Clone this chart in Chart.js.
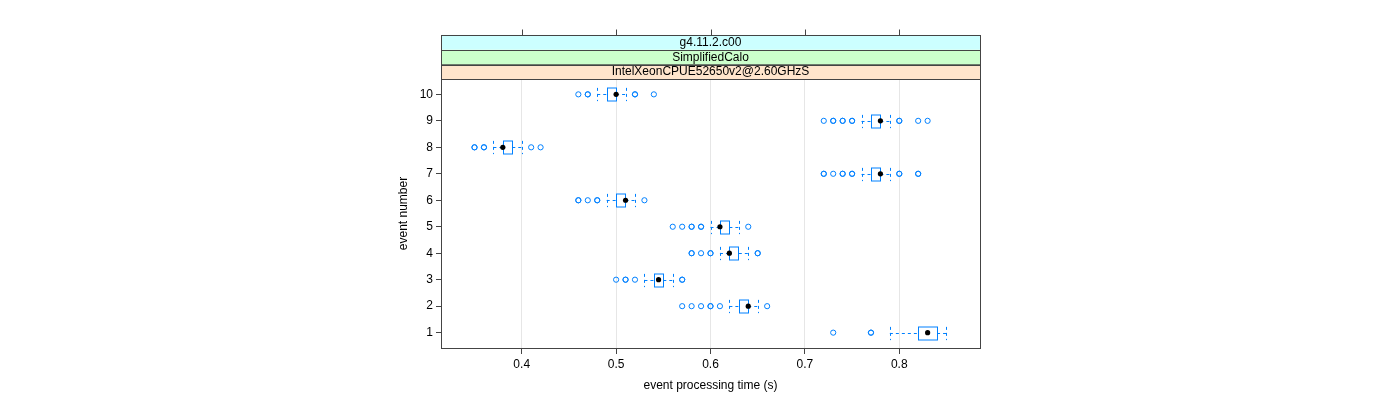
<!DOCTYPE html>
<html>
<head>
<meta charset="utf-8">
<script src="https://cdn.jsdelivr.net/npm/chart.js@4"></script>
<style>
  body { margin: 0; background: #fff; }
  #chart { display: block; }
</style>
</head>
<body>
<canvas id="chart" width="1400" height="400"></canvas>
<script>
// event numbers on the y axis
const events = [1, 2, 3, 4, 5, 6, 7, 8, 9, 10];
// box (lower/upper hinge), median, whiskers per event (seconds)
const boxLow = [0.82, 0.63, 0.54, 0.62, 0.61, 0.50, 0.77, 0.38, 0.77, 0.49];
const boxHigh = [0.84, 0.64, 0.55, 0.63, 0.62, 0.51, 0.78, 0.39, 0.78, 0.50];
const medians = [0.83, 0.64, 0.545, 0.62, 0.61, 0.51, 0.78, 0.38, 0.78, 0.50];
const whiskerLow = [0.79, 0.62, 0.53, 0.61, 0.60, 0.49, 0.76, 0.37, 0.76, 0.48];
const whiskerHigh = [0.85, 0.65, 0.56, 0.64, 0.63, 0.52, 0.79, 0.40, 0.79, 0.51];
// outliers per event (repeats = overlapping measurements)
const outliers = [
  [0.73, 0.77, 0.77],
  [0.57, 0.58, 0.59, 0.60, 0.60, 0.61, 0.66],
  [0.50, 0.51, 0.51, 0.52, 0.57, 0.57],
  [0.58, 0.58, 0.59, 0.60, 0.60, 0.65, 0.65],
  [0.56, 0.57, 0.58, 0.58, 0.59, 0.59, 0.64],
  [0.46, 0.46, 0.47, 0.48, 0.48, 0.53],
  [0.72, 0.72, 0.73, 0.74, 0.74, 0.75, 0.75, 0.80, 0.80, 0.82, 0.82],
  [0.35, 0.35, 0.36, 0.36, 0.41, 0.42],
  [0.72, 0.73, 0.73, 0.74, 0.74, 0.75, 0.75, 0.80, 0.80, 0.82, 0.83],
  [0.46, 0.47, 0.47, 0.52, 0.52, 0.54]
];
const xTicks = [0.4, 0.5, 0.6, 0.7, 0.8];
const stripLabels = ['IntelXeonCPUE52650v2@2.60GHzS', 'SimplifiedCalo', 'g4.11.2.c00'];
const stripColors = ['#ffe5cc', '#ccffcc', '#ccffff'];

const FONT = '"Liberation Sans", Arial, sans-serif';
const BLUE = '#0080ff';
const FRAME = '#444444';

const outlierPoints = [];
outliers.forEach((vals, i) => vals.forEach(v => outlierPoints.push({x: v, y: events[i]})));
const medianPoints = medians.map((m, i) => ({x: m, y: events[i]}));

const latticePlugin = {
  id: 'lattice',
  beforeDatasetsDraw(chart) {
    const {ctx, scales: {x, y}} = chart;
    ctx.save();
    ctx.strokeStyle = BLUE;
    ctx.lineWidth = 1;
    events.forEach((ev, i) => {
      const yc = Math.round(y.getPixelForValue(ev)) + 0.5;
      const half = Math.abs(y.getPixelForValue(ev + 0.25) - y.getPixelForValue(ev));
      const x1 = x.getPixelForValue(boxLow[i]);
      const x2 = x.getPixelForValue(boxHigh[i]);
      const wl = x.getPixelForValue(whiskerLow[i]);
      const wh = x.getPixelForValue(whiskerHigh[i]);
      // box
      ctx.setLineDash([]);
      ctx.strokeRect(Math.round(x1) + 0.5, Math.round(yc - half), Math.round(x2 - x1), Math.round(2 * half));
      // whiskers
      ctx.setLineDash([3, 3]);
      ctx.beginPath();
      ctx.moveTo(wl, yc); ctx.lineTo(x1, yc);
      ctx.moveTo(x2, yc); ctx.lineTo(wh, yc);
      ctx.moveTo(Math.round(wl) + 0.5, yc - half); ctx.lineTo(Math.round(wl) + 0.5, yc + half);
      ctx.moveTo(Math.round(wh) + 0.5, yc - half); ctx.lineTo(Math.round(wh) + 0.5, yc + half);
      ctx.stroke();
    });
    ctx.restore();
  },
  afterDraw(chart) {
    const {ctx, chartArea: a, scales: {x}} = chart;
    ctx.save();
    ctx.strokeStyle = FRAME;
    ctx.lineWidth = 1;
    // panel frame
    ctx.strokeRect(a.left + 0.5, a.top + 0.5, a.right - a.left, a.bottom - a.top);
    // strips
    const sh = 14.7;
    ctx.font = '12px ' + FONT;
    ctx.textAlign = 'center';
    ctx.textBaseline = 'middle';
    stripLabels.forEach((lab, k) => {
      const top = a.top - sh * (k + 1);
      ctx.fillStyle = stripColors[k];
      ctx.fillRect(a.left, top, a.right - a.left, sh);
      ctx.strokeRect(a.left + 0.5, Math.round(top) + 0.5, a.right - a.left, Math.round(sh));
      ctx.fillStyle = '#000';
      ctx.fillText(lab, (a.left + a.right) / 2, top + sh / 2 + 0.5);
    });
    // top axis ticks above the strips
    const stripTop = Math.round(a.top - sh * 3) + 0.5;
    ctx.beginPath();
    xTicks.forEach(t => {
      const px = Math.round(x.getPixelForValue(t)) + 0.5;
      ctx.moveTo(px, stripTop); ctx.lineTo(px, stripTop - 6);
    });
    ctx.stroke();
    ctx.restore();
  }
};

new Chart(document.getElementById('chart'), {
  type: 'scatter',
  data: {
    datasets: [
      {
        label: 'outliers',
        data: outlierPoints,
        pointStyle: 'circle',
        pointRadius: 2.6,
        pointBorderWidth: 1,
        pointBorderColor: BLUE,
        pointBackgroundColor: 'rgba(0,0,0,0)',
        order: 2
      },
      {
        label: 'median',
        data: medianPoints,
        pointStyle: 'circle',
        pointRadius: 2.6,
        pointBorderWidth: 0,
        pointBackgroundColor: '#000',
        order: 1
      }
    ]
  },
  options: {
    responsive: false,
    animation: false,
    events: [],
    layout: { padding: { left: 394, right: 420, top: 79, bottom: 5 } },
    plugins: { legend: { display: false }, tooltip: { enabled: false } },
    scales: {
      x: {
        type: 'linear',
        min: 0.3145,
        max: 0.8855,
        afterBuildTicks: s => { s.ticks = xTicks.map(v => ({value: v})); },
        afterFit: s => { s.height = 47; },
        border: { display: false },
        grid: { color: '#e6e6e6', tickColor: FRAME, tickLength: 6, drawOnChartArea: true },
        ticks: { color: '#000', font: { family: FONT, size: 12 }, padding: 3, maxRotation: 0,
                 callback: v => v.toFixed(1) },
        title: { display: true, text: 'event processing time (s)', color: '#000',
                 font: { family: FONT, size: 12 }, padding: { top: 4, bottom: 2 } }
      },
      y: {
        type: 'linear',
        min: 0.42,
        max: 10.58,
        afterBuildTicks: s => { s.ticks = events.map(v => ({value: v})); },
        afterFit: s => { s.width = 47; },
        border: { display: false },
        grid: { drawOnChartArea: false, tickColor: FRAME, tickLength: 5 },
        ticks: { color: '#000', font: { family: FONT, size: 12 }, padding: 3 },
        title: { display: true, text: 'event number', color: '#000',
                 font: { family: FONT, size: 12 }, padding: { top: 2, bottom: 2 } }
      }
    }
  },
  plugins: [latticePlugin]
});
</script>
</body>
</html>
